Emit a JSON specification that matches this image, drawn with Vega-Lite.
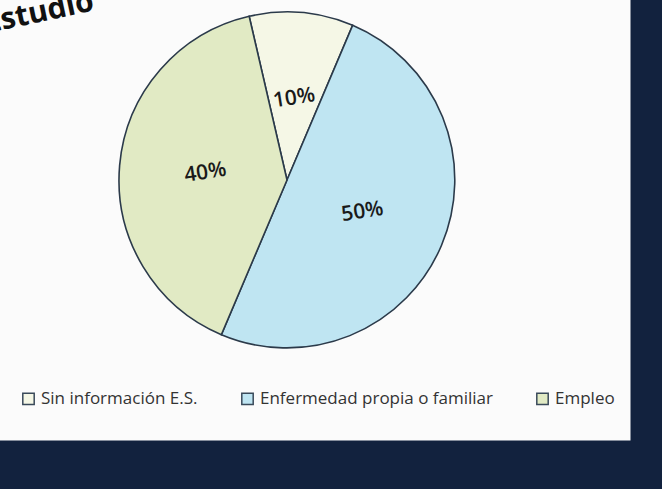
{
  "$schema": "https://vega.github.io/schema/vega-lite/v6.json",
  "width": 686,
  "height": 520,
  "autosize": {"type": "none"},
  "padding": {"left": -56, "top": -80, "right": 32, "bottom": 49},
  "background": "#12223e",
  "view": {"fill": "#fbfbfb", "stroke": "transparent"},
  "title": {
    "text": "Estudio",
    "orient": "top",
    "anchor": "start",
    "frame": "group",
    "angle": -12,
    "offset": 0,
    "dx": 7,
    "dy": 171,
    "baseline": "alphabetic",
    "font": "Open Sans",
    "fontSize": 30,
    "fontWeight": "bold",
    "color": "#111111"
  },
  "data": {
    "values": [
      {"motivo": "Sin información E.S.", "proporcion": 0.10, "orden": 1},
      {"motivo": "Enfermedad propia o familiar", "proporcion": 0.50, "orden": 2},
      {"motivo": "Empleo", "proporcion": 0.40, "orden": 3}
    ]
  },
  "layer": [
    {
      "mark": {"type": "arc", "radius": 168, "stroke": "#2b3a4a", "strokeWidth": 1.6},
      "encoding": {
        "theta": {"field": "proporcion", "type": "quantitative", "stack": true, "scale": {"range": [-0.227, 6.056]}},
        "order": {"field": "orden", "type": "ordinal"},
        "color": {
          "field": "motivo",
          "type": "nominal",
          "sort": ["Sin información E.S.", "Enfermedad propia o familiar", "Empleo"],
          "scale": {
            "domain": ["Sin información E.S.", "Enfermedad propia o familiar", "Empleo"],
            "range": ["#f5f7e6", "#bfe5f2", "#e1eac4"]
          },
          "legend": {
            "title": null,
            "orient": "none",
            "legendX": 76,
            "legendY": 470,
            "direction": "horizontal",
            "symbolType": "square",
            "symbolSize": 130,
            "symbolStrokeColor": "#3a4a5a",
            "symbolStrokeWidth": 1.5,
            "labelFont": "Open Sans",
            "labelFontSize": 17,
            "labelColor": "#333333",
            "labelLimit": 300,
            "columnPadding": 40
          }
        }
      }
    },
    {
      "mark": {"type": "text", "radius": 82, "font": "Open Sans", "fontSize": 21, "fontWeight": 600, "color": "#1a1a1a", "angle": 351},
      "encoding": {
        "theta": {"field": "proporcion", "type": "quantitative", "stack": true, "scale": {"range": [-0.227, 6.056]}},
        "order": {"field": "orden", "type": "ordinal"},
        "text": {"field": "proporcion", "type": "quantitative", "format": ".0%"}
      }
    }
  ]
}
